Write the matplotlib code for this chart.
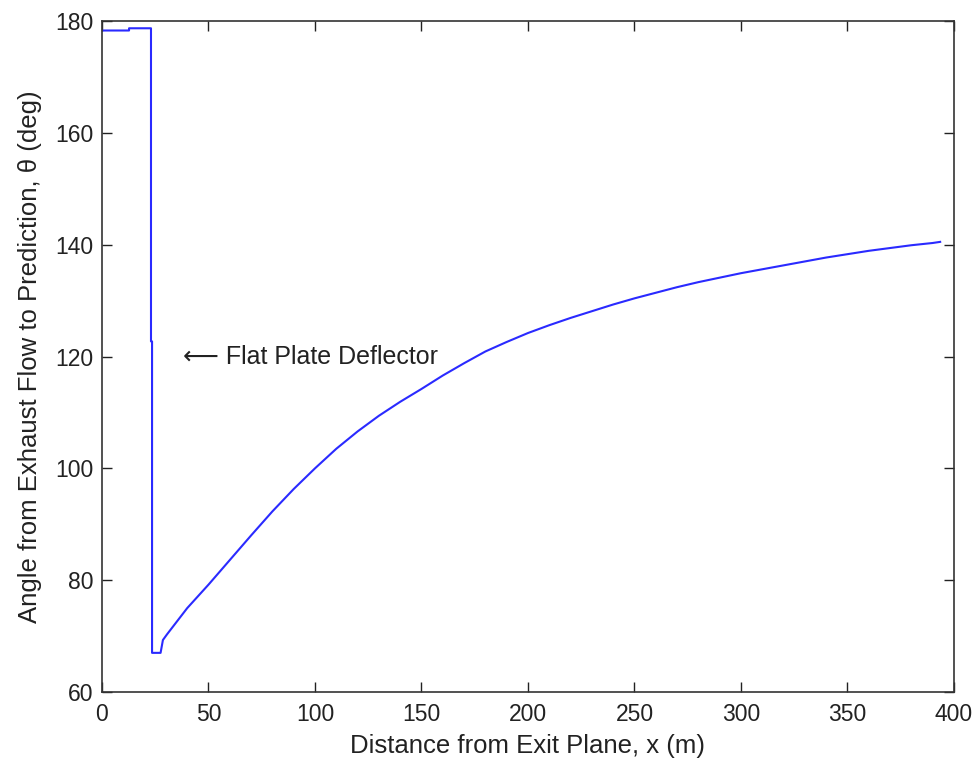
"""Flow angle vs distance from exit plane, flat plate deflector case."""
import matplotlib
matplotlib.use("Agg")
import matplotlib.pyplot as plt

plt.rcParams.update({
    "font.family": ["Liberation Sans", "DejaVu Sans"],
    "font.size": 17,
})

# ── Data ───────────────────────────────────────────────────────────────────
x_m = [0, 12.7, 12.7, 23.0, 23.0, 23.5, 23.5, 24.4, 27.5, 28.6, 30.5,
       40, 50, 60, 70, 80, 90, 100, 110, 120, 130, 140, 150, 160, 170,
       180, 190, 200, 210, 220, 230, 240, 250, 260, 270, 280, 290, 300,
       310, 320, 330, 340, 350, 360, 370, 380, 390, 393.5]
theta_deg = [178.3, 178.3, 178.7, 178.7, 122.7, 122.7, 67.0, 67.0, 67.0, 69.3, 70.3,
             75.0, 79.2, 83.6, 88.0, 92.3, 96.3, 100.0, 103.5, 106.6, 109.4, 111.9, 114.2, 116.6, 118.8,
             120.9, 122.6, 124.2, 125.6, 126.9, 128.1, 129.3, 130.4, 131.4, 132.4, 133.3, 134.1, 134.9,
             135.6, 136.3, 137.0, 137.7, 138.3, 138.9, 139.4, 139.9, 140.3, 140.5]

x_ticks = [0, 50, 100, 150, 200, 250, 300, 350, 400]
y_ticks = [60, 80, 100, 120, 140, 160, 180]

C_TEXT = "#222222"

fig = plt.figure(figsize=(9.78, 7.62), dpi=100)
ax = fig.add_axes([102 / 978, 1 - 692 / 762, (954 - 102) / 978, (692 - 21) / 762])

ax.plot(x_m, theta_deg, color="#2a2aff", linewidth=1.5)

ax.text(38, 120, "\u27f5 Flat Plate Deflector", ha="left", va="center",
        fontsize=18, color=C_TEXT)

ax.set_xlim(0, 400)
ax.set_ylim(60, 180)
ax.set_xticks(x_ticks)
ax.set_yticks(y_ticks)
ax.tick_params(direction="in", length=7, width=1, top=True, right=True,
               colors=C_TEXT, labelsize=16.5)
ax.tick_params(axis="x", pad=8)
ax.tick_params(axis="y", pad=6)
for sp in ax.spines.values():
    sp.set_color("#333333")
    sp.set_linewidth(1.2)

ax.set_xlabel("Distance from Exit Plane, x (m)", fontsize=18.5, color=C_TEXT, labelpad=6)
ax.set_ylabel("Angle from Exhaust Flow to Prediction, \u03b8 (deg)", fontsize=18.5,
              color=C_TEXT, labelpad=10)

fig.savefig("out.png", dpi=100)
